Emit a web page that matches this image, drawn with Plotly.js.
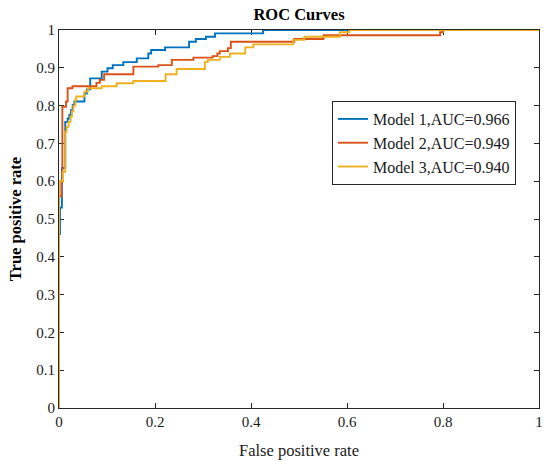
<!DOCTYPE html>
<html>
<head>
<meta charset="utf-8">
<script src="https://cdn.plot.ly/plotly-3.0.1.min.js"></script>
<style>
  html, body { margin: 0; padding: 0; background: #fff; }
  #grafica { width: 550px; height: 465px; }
</style>
</head>
<body>
<div id="grafica"></div>
<script>
// puntos de escalón (FPR donde sube, TPR alcanzado)
const fpr1 = [0, 0, 0.002, 0.006, 0.013, 0.018, 0.0215, 0.025, 0.0285, 0.032, 0.053, 0.058, 0.065, 0.089, 0.101, 0.112, 0.134, 0.162, 0.186, 0.192, 0.221, 0.271, 0.285, 0.306, 0.325, 0.425, 1];
const tpr1 = [0, 0.46, 0.53, 0.635, 0.757, 0.766, 0.775, 0.788, 0.802, 0.811, 0.832, 0.843, 0.872, 0.890, 0.899, 0.907, 0.915, 0.925, 0.938, 0.947, 0.954, 0.969, 0.976, 0.982, 0.991, 1.0, 1.0];

const fpr2 = [0, 0, 0.005, 0.007, 0.0146, 0.018, 0.028, 0.078, 0.085, 0.094, 0.155, 0.207, 0.235, 0.28, 0.32, 0.33, 0.335, 0.352, 0.358, 0.49, 0.551, 0.794, 0.8, 1];
const tpr2 = [0, 0.56, 0.60, 0.797, 0.811, 0.846, 0.851, 0.86, 0.868, 0.883, 0.903, 0.907, 0.921, 0.927, 0.931, 0.938, 0.944, 0.952, 0.969, 0.976, 0.986, 0.994, 1.0, 1.0];

const fpr3 = [0, 0, 0.008, 0.013, 0.016, 0.02, 0.024, 0.027, 0.03, 0.034, 0.036, 0.053, 0.06, 0.089, 0.12, 0.155, 0.222, 0.245, 0.304, 0.31, 0.335, 0.356, 0.388, 0.405, 0.488, 0.511, 0.585, 0.605, 1];
const tpr3 = [0, 0.60, 0.625, 0.731, 0.744, 0.757, 0.771, 0.785, 0.80, 0.815, 0.824, 0.837, 0.846, 0.851, 0.859, 0.865, 0.883, 0.897, 0.915, 0.921, 0.929, 0.938, 0.954, 0.962, 0.974, 0.982, 0.994, 1.0, 1.0];

const nombres = ['Model 1,AUC=0.966', 'Model 2,AUC=0.949', 'Model 3,AUC=0.940'];
const colores = ['#0072BD', '#D95319', '#EDB120'];

const serif = 'Liberation Serif, Times New Roman, serif';
const ejeColor = '#262626';

const trazas = [[fpr1, tpr1], [fpr2, tpr2], [fpr3, tpr3]].map((par, i) => ({
  x: par[0],
  y: par[1],
  type: 'scatter',
  mode: 'lines',
  name: nombres[i],
  cliponaxis: false,
  line: { color: colores[i], width: 1.9, shape: 'hv' }
}));

function eje(titulo, paso, separacion, negrita) {
  return {
    range: [0, 1],
    dtick: paso,
    tick0: 0,
    ticks: 'inside',
    ticklen: 5,
    tickwidth: 1,
    tickcolor: ejeColor,
    showline: true,
    linecolor: ejeColor,
    linewidth: 1,
    mirror: 'ticks',
    layer: 'below traces',
    showgrid: false,
    zeroline: false,
    tickfont: { family: serif, size: 15, color: '#1a1a1a' },
    title: {
      text: negrita ? `<b>${titulo}</b>` : titulo,
      standoff: separacion,
      font: { family: serif, size: 16.5, color: negrita ? '#000' : '#1a1a1a' }
    }
  };
}

const layout = {
  width: 550,
  height: 465,
  paper_bgcolor: '#fff',
  plot_bgcolor: '#fff',
  margin: { l: 59, r: 11, t: 30, b: 57 },
  title: {
    text: '<b>ROC Curves</b>',
    font: { family: serif, size: 16.5, color: '#000' },
    x: 0.5,
    xref: 'paper',
    y: 1 - 14 / 465,
    yref: 'container',
    yanchor: 'middle'
  },
  xaxis: eje('False positive rate', 0.2, 15, false),
  yaxis: eje('True positive rate', 0.1, 10, true),
  showlegend: true,
  legend: {
    x: 0.952,
    y: 0.701,
    xanchor: 'right',
    yanchor: 'middle',
    bgcolor: '#fff',
    bordercolor: ejeColor,
    borderwidth: 1,
    font: { family: serif, size: 16, color: '#1a1a1a' },
    tracegroupgap: 0
  }
};

Plotly.newPlot('grafica', trazas, layout, { displayModeBar: false, staticPlot: true });
</script>
</body>
</html>
